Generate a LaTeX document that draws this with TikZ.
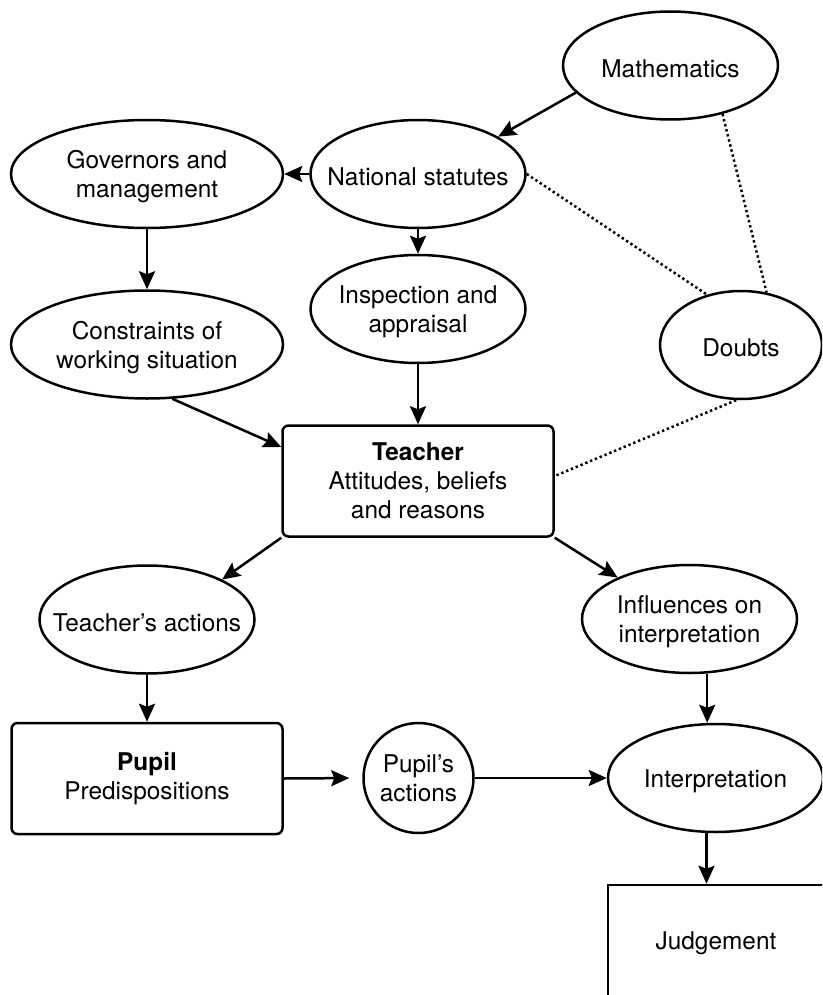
\documentclass[tikz,border=0pt]{standalone}
\usepackage{fontspec}
\setmainfont{TeX Gyre Heros}
\usetikzlibrary{shapes.geometric,arrows.meta}
\begin{document}
\begin{tikzpicture}[x=1pt,y=-1pt,
  every node/.style={font=\fontsize{24.4}{29}\selectfont},
  bubble/.style={draw, line width=2.5pt, ellipse, inner sep=0pt},
  wide/.style={minimum width=272pt, minimum height=108pt},
  mid/.style={minimum width=215pt, minimum height=108pt},
  narrow/.style={minimum width=162pt, minimum height=108pt},
  caption/.style={label={[align=center, yshift=-3pt]center:#1}},
  card/.style={draw, line width=2.5pt, rounded corners=6pt, minimum width=271pt, minimum height=111pt, align=center},
  link/.style={line width=2.5pt, -{Stealth[length=18pt,width=16pt,inset=3pt]}},
  hint/.style={line width=2.5pt, dash pattern=on 2.4pt off 2.8pt}
]
\clip (0,0) rectangle (822,995);
\fill[white] (0,0) rectangle (822,995);

% ellipses
\node[bubble, mid, caption={Mathematics}] (math) at (670.5,65.5) {};
\node[bubble, mid, caption={National statutes}] (nat) at (418,174) {};
\node[bubble, wide, caption={Governors and\\management}] (gov) at (147,174) {};
\node[bubble, wide, caption={Constraints of\\working situation}] (cons) at (147,344.5) {};
\node[bubble, mid, caption={Inspection and\\appraisal}] (insp) at (418,309) {};
\node[bubble, narrow, caption={Doubts}] (doubts) at (741,345) {};
\node[bubble, mid, caption={Teacher’s actions}] (tact) at (147,619.5) {};
\node[bubble, mid, caption={Influences on\\interpretation}] (infl) at (689.5,619) {};
\node[bubble, mid, caption={Interpretation}] (interp) at (715.5,778) {};
\node[draw, line width=2.5pt, circle, minimum size=110pt, inner sep=0pt, align=center] (pact) at (418.5,778) {Pupil’s\\actions};

% boxes
\node[card] (teacher) at (418,481) {\textbf{Teacher}\\Attitudes, beliefs\\and reasons};
\node[card] (pupil) at (147,778.5) {\textbf{Pupil}\\Predispositions};
\node[draw, line width=2.5pt, minimum width=216pt, minimum height=116pt] (judg) at (716,943) {Judgement};

% arrows
\draw[link] (math.196) -- (nat.25);
\draw[link] (nat.west) -- (gov.east);
\draw[link] (nat.south) -- (insp.north);
\draw[link] (gov.south) -- (cons.north);
\draw[link] (insp.south) -- (teacher.north);
\draw[link] (cons.295) -- ([yshift=34pt]teacher.west);
\draw[link] (teacher.south west) -- (tact.28);
\draw[link] (teacher.south east) -- (infl.150);
\draw[link] (tact.south) -- (pupil.north);
\draw[link] (infl.288) -- (infl.288 |- interp.north);
\draw[link, shorten >=13pt] (pupil.east) -- (pact.west);
\draw[link] (pact.east) -- (interp.west);
\draw[link] ([xshift=-9pt]interp.south) -- ([xshift=-9pt]interp.south |- judg.north);

% dotted relations
\draw[hint] (nat.east) -- (doubts.124);
\draw[hint] (math.317) -- (doubts.64);
\draw[hint] (doubts.265) -- ([yshift=5pt]teacher.east);
\end{tikzpicture}
\end{document}
